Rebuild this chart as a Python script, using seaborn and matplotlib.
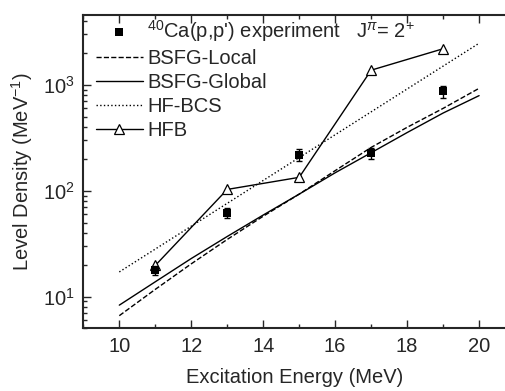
import numpy as np
import pandas as pd
import matplotlib
matplotlib.use("Agg")
import matplotlib.pyplot as plt
import seaborn as sns
from matplotlib.ticker import MultipleLocator, LogLocator, NullFormatter

# experiment 40Ca(p,p')
exp_e = [11, 13, 15, 17, 19]
exp_rho = [17.7, 62, 220, 226, 870]
exp_err = [1.8, 7, 28, 28, 110]

# model curves
bsfg_e = [10, 11, 12, 13, 14, 15, 16, 17, 18, 19, 20]
bsfg_local = [6.6, 11.7, 20.4, 34.7, 57.5, 93, 155, 257, 398, 601, 930]
bsfg_global = [8.3, 13.8, 22.9, 37, 59, 93, 148, 229, 355, 543, 793]

hfbcs_e = [10, 20]
hfbcs = [17.1, 2480]

hfb_e = [11, 13, 15, 17, 19]
hfb = [19.7, 103, 134, 1380, 2200]

sns.set_style("ticks")
plt.rcParams['font.family'] = ['Liberation Sans', 'DejaVu Sans']
plt.rcParams['mathtext.fontset'] = 'custom'
plt.rcParams['mathtext.rm'] = 'Liberation Sans'
plt.rcParams['mathtext.it'] = 'Liberation Sans:italic'

fig, ax = plt.subplots(figsize=(5.05, 3.91), dpi=100)

ax.errorbar(exp_e, exp_rho, yerr=exp_err, fmt='none', ecolor='black',
            elinewidth=1, capsize=2, capthick=1, zorder=3)
sns.scatterplot(x=exp_e, y=exp_rho, marker='s', color='black', s=36,
                edgecolor='black', linewidth=0, ax=ax, zorder=4,
                label="$^{40}$Ca(p,p') experiment   J$^{\\pi}$= 2$^{+}$")
sns.lineplot(x=bsfg_e, y=bsfg_local, color='black', lw=1, ls='--', ax=ax,
             label='BSFG-Local')
sns.lineplot(x=bsfg_e, y=bsfg_global, color='black', lw=1, ls='-', ax=ax,
             label='BSFG-Global')
sns.lineplot(x=hfbcs_e, y=hfbcs, color='black', lw=1, ls=':', ax=ax,
             label='HF-BCS')
sns.lineplot(x=hfb_e, y=hfb, color='black', lw=1, marker='^', markersize=7,
             markerfacecolor='white', markeredgecolor='black',
             markeredgewidth=0.9, ax=ax, label='HFB')

ax.set_yscale('log')
ax.set_xlim(9, 20.72)
ax.set_ylim(5, 4600)
ax.xaxis.set_major_locator(MultipleLocator(2))
ax.xaxis.set_minor_locator(MultipleLocator(1))
ax.yaxis.set_minor_locator(LogLocator(base=10, subs=np.arange(2, 10)))
ax.yaxis.set_minor_formatter(NullFormatter())

ax.tick_params(which='both', direction='in', top=True, right=False,
               labelsize=14.5, width=1, pad=6)
ax.tick_params(which='major', length=6)
ax.tick_params(which='minor', length=3)
for s in ax.spines.values():
    s.set_linewidth(1.5)
ax.spines['right'].set_visible(False)

ax.set_xlabel('Excitation Energy (MeV)', fontsize=14.5, labelpad=9)
ax.set_ylabel('Level Density (MeV$^{-1}$)', fontsize=14.5, labelpad=6)

ax.legend(loc='upper left', bbox_to_anchor=(0.015, 1.01), frameon=False,
          fontsize=14.5, handlelength=2.35, handletextpad=0.2,
          labelspacing=0.25, borderaxespad=0, borderpad=0.3, numpoints=1)

fig.subplots_adjust(left=0.165, right=1.0, top=0.962, bottom=0.16)
fig.savefig('out.png', dpi=100)
